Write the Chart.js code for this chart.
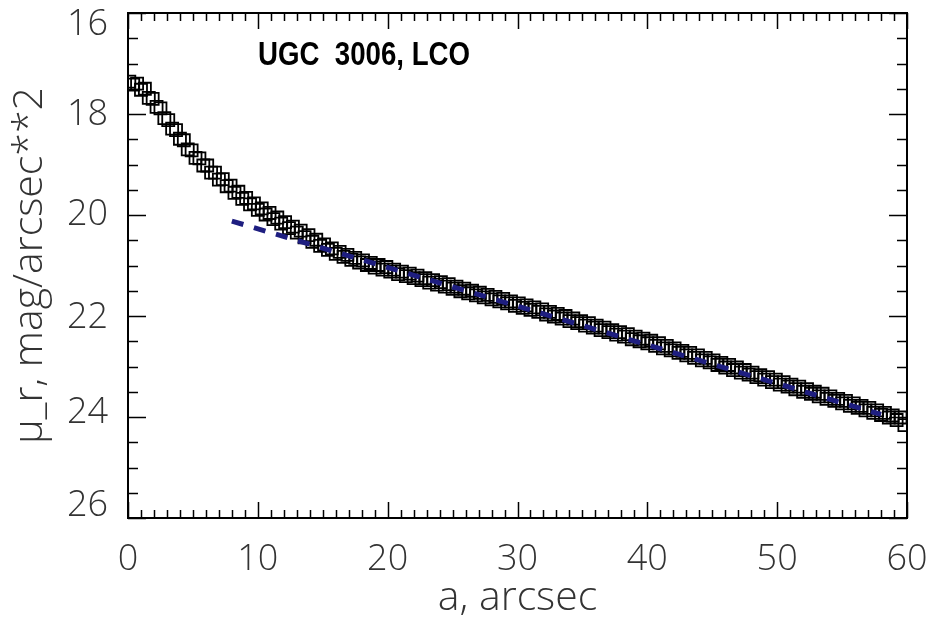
<!DOCTYPE html>
<html>
<head>
<meta charset="utf-8">
<script src="https://cdn.jsdelivr.net/npm/chart.js@4.4.1/dist/chart.umd.min.js"></script>
<style>
  html, body { margin: 0; padding: 0; background: #fff; }
  #wrap { width: 932px; height: 623px; }
</style>
</head>
<body>
<div id="wrap"><canvas id="profile" width="932" height="623"></canvas></div>
<script>
// surface brightness profile, UGC 3006 (LCO, r band)
const radius = [
  0.1, 0.4, 0.7, 1.0, 1.3, 1.6, 1.9, 2.2, 2.5, 2.8, 3.1, 3.4, 3.7, 4.0, 4.3, 4.6, 4.9, 5.2, 5.5, 5.8,
  6.1, 6.4, 6.7, 7.0, 7.3, 7.6, 7.9, 8.2, 8.5, 8.8, 9.1, 9.4, 9.7, 10.0, 10.3, 10.6, 10.9, 11.2, 11.5, 11.8,
  12.1, 12.4, 12.7, 13.0, 13.3, 13.6, 13.9, 14.2, 14.5, 14.8, 15.1, 15.4, 15.7, 16.0, 16.3, 16.6, 16.9, 17.2, 17.5, 17.8,
  18.1, 18.4, 18.7, 19.0, 19.3, 19.6, 19.9, 20.2, 20.5, 20.8, 21.1, 21.4, 21.7, 22.0, 22.3, 22.6, 22.9, 23.2, 23.5, 23.8,
  24.1, 24.4, 24.7, 25.0, 25.3, 25.6, 25.9, 26.2, 26.5, 26.8, 27.1, 27.4, 27.7, 28.0, 28.3, 28.6, 28.9, 29.2, 29.5, 29.8,
  30.1, 30.4, 30.7, 31.0, 31.3, 31.6, 31.9, 32.2, 32.5, 32.8, 33.1, 33.4, 33.7, 34.0, 34.3, 34.6, 34.9, 35.2, 35.5, 35.8,
  36.1, 36.4, 36.7, 37.0, 37.3, 37.6, 37.9, 38.2, 38.5, 38.8, 39.1, 39.4, 39.7, 40.0, 40.3, 40.6, 40.9, 41.2, 41.5, 41.8,
  42.1, 42.4, 42.7, 43.0, 43.3, 43.6, 43.9, 44.2, 44.5, 44.8, 45.1, 45.4, 45.7, 46.0, 46.3, 46.6, 46.9, 47.2, 47.5, 47.8,
  48.1, 48.4, 48.7, 49.0, 49.3, 49.6, 49.9, 50.2, 50.5, 50.8, 51.1, 51.4, 51.7, 52.0, 52.3, 52.6, 52.9, 53.2, 53.5, 53.8,
  54.1, 54.4, 54.7, 55.0, 55.3, 55.6, 55.9, 56.2, 56.5, 56.8, 57.1, 57.4, 57.7, 58.0, 58.3, 58.6, 58.9, 59.2, 59.5, 59.8
];
const muR = [
  17.36, 17.42, 17.40, 17.52, 17.50, 17.68, 17.70, 17.86, 17.89, 18.08, 18.12, 18.29, 18.32, 18.49, 18.52, 18.70, 18.72, 18.87, 18.88, 19.02,
  19.02, 19.16, 19.16, 19.30, 19.29, 19.43, 19.42, 19.56, 19.54, 19.68, 19.66, 19.79, 19.77, 19.90, 19.87, 19.99, 19.96, 20.08, 20.05, 20.17,
  20.14, 20.26, 20.23, 20.35, 20.31, 20.44, 20.40, 20.53, 20.49, 20.61, 20.58, 20.69, 20.66, 20.77, 20.73, 20.83, 20.79, 20.89, 20.85, 20.94,
  20.90, 20.99, 20.95, 21.04, 20.99, 21.08, 21.03, 21.12, 21.08, 21.17, 21.12, 21.21, 21.16, 21.25, 21.20, 21.29, 21.25, 21.34, 21.29, 21.38,
  21.33, 21.42, 21.37, 21.46, 21.42, 21.51, 21.46, 21.55, 21.50, 21.59, 21.54, 21.63, 21.58, 21.67, 21.62, 21.71, 21.66, 21.75, 21.71, 21.80,
  21.75, 21.84, 21.79, 21.88, 21.83, 21.92, 21.87, 21.97, 21.92, 22.01, 21.96, 22.05, 22.00, 22.10, 22.05, 22.14, 22.10, 22.19, 22.14, 22.23,
  22.19, 22.28, 22.23, 22.32, 22.28, 22.37, 22.32, 22.41, 22.36, 22.46, 22.41, 22.50, 22.45, 22.54, 22.49, 22.59, 22.54, 22.64, 22.59, 22.68,
  22.64, 22.73, 22.69, 22.78, 22.73, 22.83, 22.78, 22.88, 22.83, 22.92, 22.88, 22.97, 22.93, 23.02, 22.97, 23.07, 23.02, 23.12, 23.07, 23.16,
  23.12, 23.21, 23.17, 23.26, 23.21, 23.31, 23.26, 23.36, 23.31, 23.40, 23.36, 23.45, 23.40, 23.50, 23.45, 23.54, 23.50, 23.59, 23.54, 23.64,
  23.59, 23.68, 23.64, 23.73, 23.68, 23.78, 23.73, 23.82, 23.78, 23.87, 23.82, 23.92, 23.87, 23.96, 23.92, 24.01, 23.97, 24.06, 24.01, 24.16
];
// exponential disk fit (dashed)
const fitRadius = [8.0, 58.0];
const fitMu = [20.12, 23.95];

const xTicks = [0, 10, 20, 30, 40, 50, 60];
const yTicks = [16, 18, 20, 22, 24, 26];
const plotLabel = "UGC  3006, LCO";

const labelFont = { family: "'Open Sans', 'Liberation Sans', sans-serif", size: 36, weight: 300 };
const titleFont = { family: "'Open Sans', 'Liberation Sans', sans-serif", size: 41, weight: 300 };

// IDL keeps the end labels inside the frame
const yLabelShift = [12, 1, 0, 2, -4, -12];

const frameTicks = {
  id: "frameTicks",
  beforeDraw(chart) {
    const items = chart.scales.y.getLabelItems();
    items.forEach((it, i) => {
      if (!it._moved) { it.options.translation[1] += yLabelShift[i] || 0; it._moved = true; }
    });
  },
  afterDraw(chart) {
    const { ctx, chartArea: a, scales: { x, y } } = chart;
    ctx.save();
    ctx.strokeStyle = "#000";
    ctx.lineWidth = 2;
    ctx.strokeRect(a.left, a.top, a.right - a.left, a.bottom - a.top);

    ctx.lineWidth = 1.5;
    ctx.beginPath();
    for (let v = xTicks[0]; v <= xTicks[xTicks.length - 1]; v += 1) {
      const px = Math.round(x.getPixelForValue(v)) + 0.5;
      const len = v % 10 === 0 ? 16 : 8;
      ctx.moveTo(px, a.bottom); ctx.lineTo(px, a.bottom - len);
      ctx.moveTo(px, a.top);    ctx.lineTo(px, a.top + len);
    }
    for (let v = yTicks[0]; v <= yTicks[yTicks.length - 1]; v += 0.5) {
      const py = Math.round(y.getPixelForValue(v)) + 0.5;
      const len = v % 2 === 0 ? 18 : 10;
      ctx.moveTo(a.left, py);  ctx.lineTo(a.left + len, py);
      ctx.moveTo(a.right, py); ctx.lineTo(a.right - len, py);
    }
    ctx.stroke();

    // label, squeezed to the width it has in the original
    ctx.fillStyle = "#000";
    ctx.font = "bold 34px 'Liberation Sans', sans-serif";
    ctx.textBaseline = "alphabetic";
    const w = ctx.measureText(plotLabel).width;
    ctx.translate(258, 65);
    ctx.scale(212 / w, 1);
    ctx.fillText(plotLabel, 0, 0);
    ctx.restore();
  }
};

const ctx = document.getElementById("profile").getContext("2d");
new Chart(ctx, {
  type: "scatter",
  data: {
    datasets: [
      {
        label: "profile",
        data: radius.map((r, i) => ({ x: r, y: muR[i] })),
        pointStyle: "rect",
        pointRadius: 8.5,
        borderColor: "#000",
        backgroundColor: "rgba(0,0,0,0)",
        borderWidth: 1.8,
        showLine: false,
        order: 2,
      },
      {
        label: "fit",
        type: "line",
        data: fitRadius.map((r, i) => ({ x: r, y: fitMu[i] })),
        borderColor: "#1e1e80",
        borderWidth: 5,
        borderDash: [12, 11],
        pointRadius: 0,
        fill: false,
        order: 1,
      }
    ]
  },
  options: {
    responsive: false,
    animation: false,
    layout: { padding: { top: 13, right: 25, left: 0, bottom: 0 } },
    plugins: { legend: { display: false }, tooltip: { enabled: false } },
    scales: {
      x: {
        type: "linear",
        min: 0, max: 60,
        grid: { display: false },
        border: { display: false },
        afterBuildTicks: s => { s.ticks = xTicks.map(v => ({ value: v })); },
        afterFit: s => { s.height = 105; s.paddingLeft = 0; s.paddingRight = 0; },
        ticks: { font: labelFont, color: "#333", padding: 12, maxRotation: 0 },
        title: { display: true, text: "a, arcsec", font: titleFont, color: "#333", padding: { top: 0, bottom: 0 } }
      },
      y: {
        type: "linear",
        reverse: true,
        min: 16, max: 26,
        grid: { display: false },
        border: { display: false },
        afterBuildTicks: s => { s.ticks = yTicks.map(v => ({ value: v })); },
        afterFit: s => { s.width = 128; s.paddingTop = 0; s.paddingBottom = 0; },
        ticks: { font: labelFont, color: "#333", padding: 12 },
        title: { display: true, text: "\u03bc_r, mag/arcsec**2", font: titleFont, color: "#333", padding: { top: 6, bottom: 0 } }
      }
    }
  },
  plugins: [frameTicks]
});
</script>
</body>
</html>
